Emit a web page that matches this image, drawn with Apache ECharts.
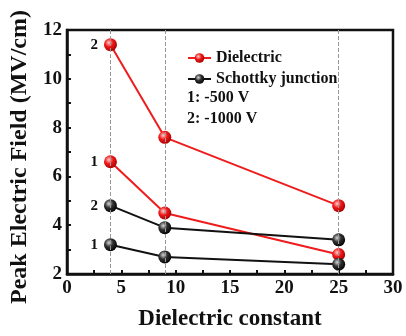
<!DOCTYPE html>
<html>
<head>
<meta charset="utf-8">
<script src="https://cdn.jsdelivr.net/npm/echarts@6/dist/echarts.min.js"></script>
<style>
  html, body { margin: 0; padding: 0; background: #fff; }
  #chart { width: 406px; height: 336px; }
</style>
</head>
<body>
<div id="chart"></div>
<script>
(function () {
  const dielectricConstants = [4, 9, 25];
  const dielectric1000 = [11.4, 7.6, 4.8];
  const dielectric500 = [6.6, 4.5, 2.8];
  const schottky1000 = [4.8, 3.9, 3.4];
  const schottky500 = [3.2, 2.7, 2.4];
  const guideLines = [4, 9, 25];
  const noteLines = ["1: -500 V", "2: -1000 V"];

  const FONT = "Liberation Serif";

  function sphere(c0, c1, c2) {
    return {
      type: "radial", x: 0.38, y: 0.35, r: 0.7,
      colorStops: [
        { offset: 0, color: c0 },
        { offset: 0.45, color: c1 },
        { offset: 1, color: c2 },
      ],
    };
  }
  const redBall = sphere("#ffd0d0", "#f01818", "#a00000");
  const blackBall = sphere("#d8d8d8", "#303030", "#000000");

  function pairs(vals) {
    return vals.map((v, i) => [dielectricConstants[i], v]);
  }

  function makeSeries(name, vals, tag, lineColor, ball, extra) {
    const data = pairs(vals);
    data[0] = {
      value: data[0],
      label: {
        show: true, position: "left", distance: 6, formatter: tag,
        fontFamily: FONT, fontWeight: "bold", fontSize: 15, color: "#111",
      },
    };
    return Object.assign({
      name: name,
      type: "line",
      data: data,
      symbol: "circle",
      symbolSize: 13,
      lineStyle: { color: lineColor, width: 2 },
      itemStyle: { color: ball, borderWidth: 0 },
      z: 3,
    }, extra || {});
  }

  const chart = echarts.init(document.getElementById("chart"));

  const option = {
    animation: false,
    grid: {
      left: 67, right: 13, top: 30, bottom: 56,
      show: true, borderColor: "#111", borderWidth: 2.5,
    },
    legend: {
      data: [
        { name: "Dielectric", itemStyle: { color: redBall } },
        { name: "Schottky junction", itemStyle: { color: blackBall } },
      ],
      orient: "vertical",
      left: 182, top: 45,
      itemWidth: 23, itemHeight: 12, itemGap: 5,
      textStyle: { fontFamily: FONT, fontWeight: "bold", fontSize: 16, color: "#111" },
    },
    graphic: noteLines.map((t, i) => ({
      type: "text", left: 187, top: 90 + i * 21,
      style: { text: t, fontFamily: FONT, fontWeight: "bold", fontSize: 16, fill: "#111" },
    })),
    xAxis: {
      type: "value", min: 0, max: 30, interval: 5,
      name: "Dielectric constant", nameLocation: "middle", nameGap: 34,
      nameTextStyle: { fontFamily: FONT, fontWeight: "bold", fontSize: 23, color: "#111" },
      axisLine: { show: true, lineStyle: { color: "#111", width: 2.5 } },
      axisTick: { show: true, inside: true, length: 4, lineStyle: { color: "#111", width: 2 } },
      minorTick: { show: true, splitNumber: 2, length: 4, lineStyle: { color: "#111", width: 2 } },
      splitLine: { show: false },
      axisLabel: { fontFamily: FONT, fontWeight: "bold", fontSize: 19, color: "#111", margin: 5 },
    },
    yAxis: {
      type: "value", min: 2, max: 12, interval: 2,
      name: "Peak Electric Field (MV/cm)", nameLocation: "middle", nameGap: 31,
      nameTextStyle: {
        fontFamily: FONT, fontWeight: "bold", fontSize: 24, color: "#111",
        padding: [0, 10, 0, 0],
      },
      axisLine: { show: true, lineStyle: { color: "#111", width: 2.5 } },
      axisTick: { show: true, inside: true, length: 4, lineStyle: { color: "#111", width: 2 } },
      minorTick: { show: true, splitNumber: 2, length: 4, lineStyle: { color: "#111", width: 2 } },
      splitLine: { show: false },
      axisLabel: { fontFamily: FONT, fontWeight: "bold", fontSize: 19, color: "#111", margin: 5 },
    },
    series: [
      makeSeries("Dielectric", dielectric1000, "2", "#ee1c1c", redBall, {
        markLine: {
          silent: true, symbol: "none", label: { show: false },
          lineStyle: { color: "#999", type: "dashed", width: 1 },
          data: guideLines.map((x) => ({ xAxis: x })),
        },
      }),
      makeSeries("Dielectric", dielectric500, "1", "#ee1c1c", redBall),
      makeSeries("Schottky junction", schottky1000, "2", "#111", blackBall),
      makeSeries("Schottky junction", schottky500, "1", "#111", blackBall),
    ],
  };

  chart.setOption(option);

  window.addEventListener("resize", () => {
    chart.resize();
  });
})();
</script>
</body>
</html>
